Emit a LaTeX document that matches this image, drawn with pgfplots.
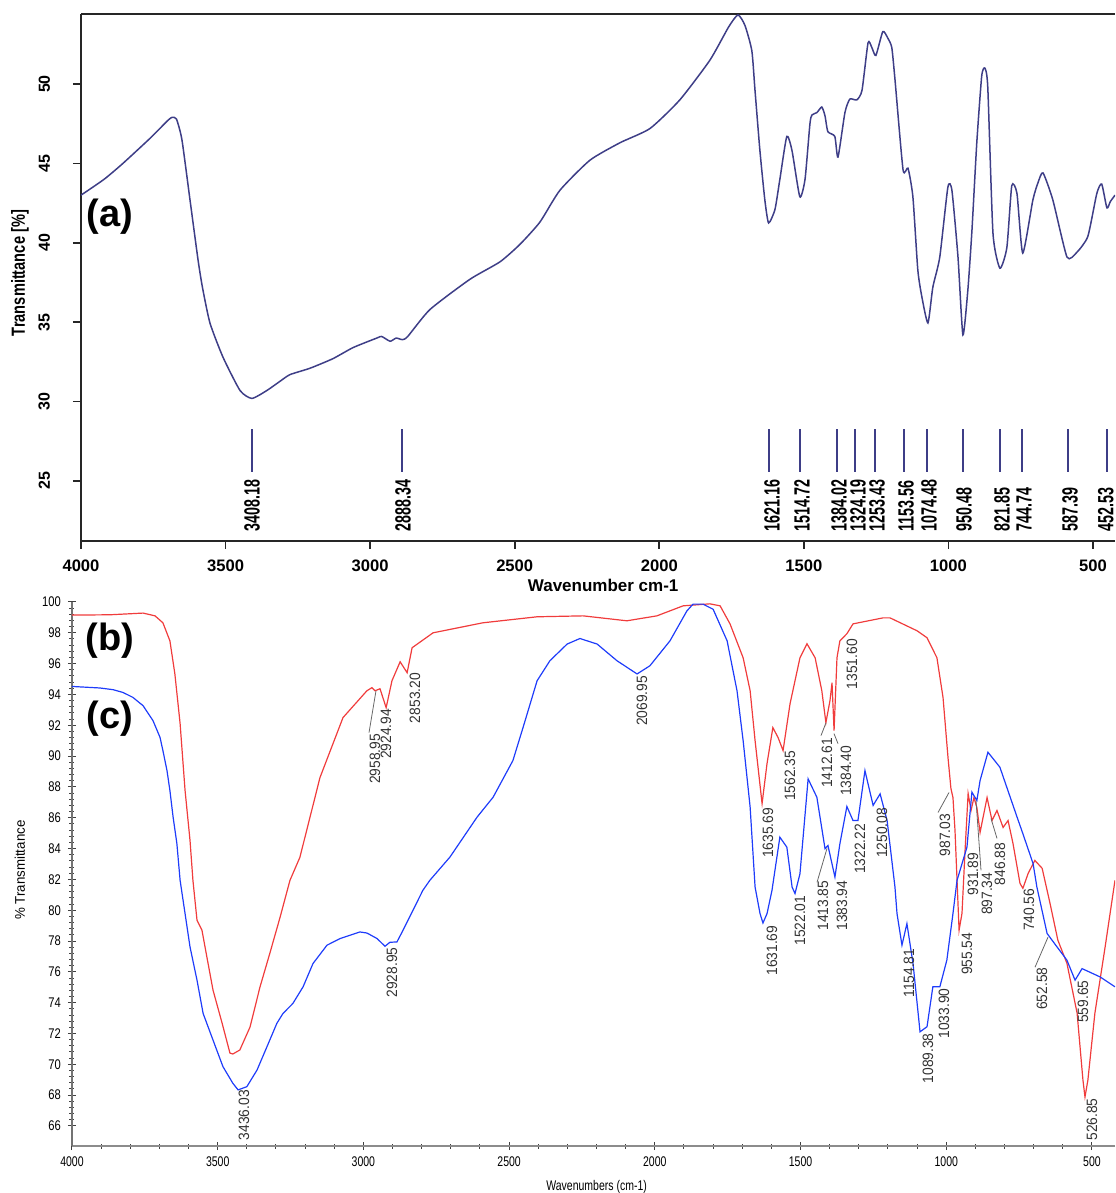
\documentclass[border=0pt]{standalone}
\usepackage{fontspec}
\setmainfont{Liberation Sans}
\usepackage{graphicx}
\usepackage{pgfplots}
\pgfplotsset{compat=1.18}

\definecolor{navy}{RGB}{62,62,135}
\definecolor{spred}{RGB}{240,60,60}
\definecolor{spblue}{RGB}{30,60,250}

% peak labels: panel (a) bold condensed, panels (b)/(c) plain
\newcommand{\pa}[1]{\scalebox{0.65}[1]{\fontsize{11}{11}\selectfont\bfseries #1}}
\newcommand{\pb}[1]{\scalebox{0.92}[1]{\fontsize{7.5}{7.5}\selectfont #1}}

\begin{document}
\begin{tikzpicture}
\useasboundingbox (0,0) rectangle (557.5pt,596.5pt);

% ---------------- panel (a) ----------------
\begin{axis}[
  at={(40.5pt,326pt)}, anchor=south west,
  scale only axis, width=517pt, height=263.5pt,
  x dir=reverse, xmin=424, xmax=4000, ymin=21.22, ymax=54.41,
  axis x line=box, axis y line=left,
  axis line style={-, line width=1pt, black!85},
  xtick pos=left,
  xtick={500,1000,...,4000}, ytick={25,30,...,50},
  tick align=outside, major tick length=4pt,
  tick style={line width=0.8pt, black!85},
  /pgf/number format/1000 sep={},
  /pgf/number format/assume math mode=true,
  xticklabel style={font={\fontsize{8.3}{10}\selectfont\bfseries}, yshift=-1.7pt},
  yticklabel style={font={\fontsize{8}{10}\selectfont\bfseries}, xshift=-8pt, rotate=90, anchor=south},
  xlabel={\fontsize{8.5}{10}\selectfont\bfseries Wavenumber cm-1},
  xlabel style={at={(axis description cs:0.505,-0.0835)}, anchor=center},
  ylabel={\scalebox{0.77}[1]{\fontsize{9.5}{10}\selectfont\bfseries Transmittance [\%]}},
  ylabel style={at={(axis description cs:-0.059,0.5085)}, anchor=center},
]
\addplot[navy, line width=0.75pt, smooth, tension=0.35] coordinates {
(4000,43.0)(3920,44.0)(3855,45.0)(3760,46.6)(3700,47.7)(3685,47.9)(3670,47.8)
(3651,46.5)(3623,42.7)(3595,38.9)(3580,37.2)(3554,34.95)(3509,32.8)(3450,30.7)
(3409,30.2)(3357,30.7)(3310,31.3)(3277,31.7)(3208,32.1)(3129,32.7)(3059,33.4)
(2977,34.0)(2960,34.1)(2931,33.8)(2910,34.0)(2888,33.9)(2870,34.1)(2793,35.8)
(2655,37.7)(2551,38.8)(2482,39.9)(2413,41.3)(2344,43.3)(2240,45.2)(2136,46.3)
(2032,47.2)(1929,49.0)(1825,51.5)(1760,53.6)(1728,54.35)(1704,53.7)(1680,52.1)
(1669,49.6)(1652,45.8)(1635,42.7)(1622,41.25)(1600,42.1)(1583,44.0)(1559,46.7)
(1541,45.8)(1514,42.9)(1496,44.0)(1479,47.5)(1472,48.05)(1455,48.2)(1438,48.55)
(1427,48.0)(1417,47.0)(1393,46.7)(1382,45.4)(1358,48.2)(1341,49.05)(1317,49.0)
(1299,49.6)(1278,52.6)(1265,52.3)(1251,51.8)(1227,53.3)(1210,52.9)(1196,52.3)
(1185,50.3)(1157,44.6)(1140,44.7)(1123,42.9)(1106,38.3)(1092,36.6)(1071,34.95)
(1054,37.2)(1030,39.1)(1002,43.5)(988,43.3)(967,39.1)(950,34.2)(933,37.0)
(919,40.7)(902,46.3)(885,50.5)(874,51.0)(864,49.8)(846,40.6)(822,38.4)
(798,39.7)(781,43.6)(763,43.1)(743,39.35)(708,42.7)(690,43.8)(673,44.4)
(639,42.7)(590,39.1)(556,39.4)(518,40.4)(487,43.1)(470,43.7)(452,42.2)
(440,42.6)(424,43.0)
};
% peak marker lines
\addplot[navy, line width=1pt, unbounded coords=jump] coordinates {
(3408.18,25.57)(3408.18,28.27)(3408.18,nan)
(2888.34,25.57)(2888.34,28.27)(2888.34,nan)
(1621.16,25.57)(1621.16,28.27)(1621.16,nan)
(1514.72,25.57)(1514.72,28.27)(1514.72,nan)
(1384.02,25.57)(1384.02,28.27)(1384.02,nan)
(1324.19,25.57)(1324.19,28.27)(1324.19,nan)
(1253.43,25.57)(1253.43,28.27)(1253.43,nan)
(1153.56,25.57)(1153.56,28.27)(1153.56,nan)
(1074.48,25.57)(1074.48,28.27)(1074.48,nan)
(950.48,25.57)(950.48,28.27)(950.48,nan)
(821.85,25.57)(821.85,28.27)(821.85,nan)
(744.74,25.57)(744.74,28.27)(744.74,nan)
(587.39,25.57)(587.39,28.27)(587.39,nan)
(452.53,25.57)(452.53,28.27)
};
\tikzset{al/.style={rotate=90, anchor=west, inner sep=0pt}}
\node[al] at (axis cs:3408.18,21.79) {\pa{3408.18}};
\node[al] at (axis cs:2886.4,21.79) {\pa{2888.34}};
\node[al] at (axis cs:1610.2,21.79) {\pa{1621.16}};
\node[al] at (axis cs:1506.4,21.79) {\pa{1514.72}};
\node[al] at (axis cs:1378.5,21.79) {\pa{1384.02}};
\node[al] at (axis cs:1312.8,21.79) {\pa{1324.19}};
\node[al] at (axis cs:1247.0,21.79) {\pa{1253.43}};
\node[al] at (axis cs:1146.7,21.79) {\pa{1153.56}};
\node[al] at (axis cs:1067.2,21.79) {\pa{1074.48}};
\node[al] at (axis cs:946.1,21.79) {\pa{950.48}};
\node[al] at (axis cs:814.7,21.79) {\pa{821.85}};
\node[al] at (axis cs:738.6,21.79) {\pa{744.74}};
\node[al] at (axis cs:579.6,21.79) {\pa{587.39}};
\node[al] at (axis cs:456,21.79) {\pa{452.53}};
\node[font={\fontsize{19}{19}\selectfont\bfseries}] at (axis cs:3900,41.62) {(a)};
\end{axis}

% ---------------- panels (b) and (c) ----------------
\begin{axis}[
  at={(36pt,23.5pt)}, anchor=south west,
  scale only axis, width=521.5pt, height=272pt,
  x dir=reverse, xmin=421, xmax=4000, ymin=64.7, ymax=100,
  axis x line=bottom, axis y line=left,
  x axis line style={-, line width=1.2pt, black!45},
  y axis line style={-, line width=0.6pt, black!55},
  xtick={500,1000,...,4000}, minor x tick num=4,
  ytick={66,68,...,100}, minor y tick num=4,
  tick align=center, major tick length=4pt, minor tick length=2.5pt,
  tick style={line width=0.5pt, black!75},
  /pgf/number format/1000 sep={},
  /pgf/number format/assume math mode=true,
  xticklabel={\scalebox{0.75}[1]{\pgfmathprintnumber{\tick}}},
  yticklabel={\scalebox{0.8}[1]{\pgfmathprintnumber{\tick}}},
  xticklabel style={font={\fontsize{7}{8}\selectfont}},
  yticklabel style={font={\fontsize{7}{8}\selectfont}},
  xlabel={\scalebox{0.75}[1]{\fontsize{7}{8}\selectfont Wavenumbers (cm-1)}},
  xlabel style={at={(axis description cs:0.503,-0.0754)}, anchor=center},
  ylabel={\scalebox{0.95}[1]{\fontsize{7}{8}\selectfont \% Transmittance}},
  ylabel style={at={(axis description cs:-0.0499,0.507)}, anchor=center},
]
% (b) red spectrum
\addplot[spred, line width=0.6pt] coordinates {
(4000,99.15)(3870,99.17)(3756,99.28)(3715,99.10)(3688,98.65)(3664,97.48)(3647,95.34)
(3629,92.11)(3612,87.77)(3595,84.53)(3585,81.94)(3571,79.35)(3554,78.70)(3537,76.95)
(3516,74.81)(3485,72.68)(3458,70.73)(3448,70.67)(3424,70.93)(3389,72.42)(3355,75.01)
(3321,77.21)(3286,79.54)(3252,81.94)(3218,83.43)(3149,88.61)(3070,92.50)(2988,94.24)
(2971,94.44)(2960,94.24)(2943,94.37)(2922,93.14)(2902,94.89)(2874,96.12)(2850,95.41)
(2833,97.03)(2761,98.00)(2590,98.65)(2404,99.04)(2246,99.10)(2096,98.78)(1993,99.10)
(1903,99.75)(1811,99.88)(1776,99.75)(1742,98.58)(1697,96.38)(1673,94.24)(1656,91.0)
(1632,86.92)(1615,89.52)(1595,91.85)(1577,91.20)(1560,90.36)(1536,93.40)(1502,96.38)
(1478,97.29)(1450,96.38)(1427,94.24)(1413,92.17)(1399,93.60)(1392,94.76)(1385,91.65)
(1375,96.38)(1365,97.48)(1341,97.94)(1320,98.58)(1217,98.97)(1193,98.97)(1100,98.13)
(1066,97.68)(1032,96.38)(1011,93.79)(994,89.90)(984,87.90)(977,87.31)(970,85.18)
(963,81.94)(956,78.70)(946,79.80)(936,83.69)(925,87.57)(915,86.47)(905,87.31)
(895,86.67)(884,85.05)(860,87.31)(843,85.82)(826,86.47)(805,85.37)(788,85.82)
(771,84.33)(747,81.74)(737,81.42)(719,82.39)(696,83.23)(671,82.72)(644,80.45)
(617,78.05)(586,76.56)(551,73.32)(531,68.98)(524,67.88)(514,68.98)(490,73.32)
(455,77.60)(421,81.94)
};
% (c) blue spectrum
\addplot[spblue, line width=0.6pt] coordinates {
(4000,94.52)(3904,94.42)(3859,94.31)(3825,94.13)(3791,93.81)(3756,93.27)(3722,92.30)
(3698,91.22)(3688,90.36)(3674,89.06)(3664,87.77)(3653,86.04)(3640,84.31)(3629,81.94)
(3612,79.78)(3595,77.62)(3571,75.46)(3550,73.30)(3516,71.57)(3482,69.85)(3448,68.77)
(3430,68.34)(3400,68.55)(3365,69.63)(3331,71.14)(3297,72.66)(3276,73.30)(3242,73.95)
(3207,75.03)(3173,76.54)(3125,77.73)(3080,78.16)(3012,78.59)(2988,78.52)(2953,78.16)
(2926,77.66)(2909,77.92)(2885,77.94)(2864,78.70)(2830,79.99)(2796,81.29)(2772,81.94)
(2703,83.45)(2610,86.04)(2555,87.33)(2487,89.71)(2452,91.87)(2404,94.89)(2360,96.19)
(2301,97.27)(2257,97.63)(2198,97.27)(2130,96.19)(2061,95.33)(2017,95.86)(1948,97.48)
(1890,99.42)(1869,99.86)(1835,99.86)(1800,99.53)(1752,97.48)(1718,94.24)(1697,91.0)
(1673,86.69)(1656,81.50)(1639,79.78)(1629,79.17)(1615,79.78)(1598,81.29)(1571,84.74)
(1547,84.09)(1529,81.50)(1519,81.08)(1502,82.37)(1474,88.52)(1444,87.33)(1416,83.99)
(1406,84.20)(1382,82.15)(1365,84.31)(1341,86.73)(1320,85.82)(1303,85.82)(1279,89.06)
(1251,86.80)(1227,87.55)(1203,85.82)(1176,81.50)(1169,79.78)(1152,77.73)(1135,79.13)
(1114,76.54)(1090,72.11)(1066,72.44)(1046,75.03)(1022,75.03)(998,76.76)(977,79.78)
(963,81.94)(929,84.09)(912,87.66)(895,87.12)(884,88.41)(857,90.25)(816,89.28)
(757,86.04)(737,84.96)(702,83.02)(689,81.50)(654,78.49)(620,77.62)(586,76.76)
(558,75.46)(534,76.21)(472,75.67)(421,75.03)
};
% leader lines
\addplot[black!60, line width=0.4pt, unbounded coords=jump] coordinates {
(2980.8,91.52)(2956.8,94.24)(2956.8,nan)
(1429.8,91.33)(1412.6,92.17)(1412.6,nan)
(1371.5,90.81)(1385.2,91.46)(1385.2,nan)
(1028.3,86.34)(990.6,87.64)(990.6,nan)
(897.9,87.12)(880.8,82.59)(880.8,nan)
(846.4,85.95)(825.9,84.66)(825.9,nan)
(1443.5,81.81)(1409.2,84.01)(1409.2,nan)
(695.5,76.30)(650.9,78.25)
};
\tikzset{pl/.style={rotate=90, anchor=east, inner sep=0pt, text=black!80}}
\node[pl] at (axis cs:2960.3,91.46) {\pb{2958.95}};
\node[pl] at (axis cs:2922.5,93.08) {\pb{2924.94}};
\node[pl] at (axis cs:2823.0,95.41) {\pb{2853.20}};
\node[pl] at (axis cs:2044.0,95.22) {\pb{2069.95}};
\node[pl] at (axis cs:1611.7,86.67) {\pb{1635.69}};
\node[pl] at (axis cs:1536.2,90.36) {\pb{1562.35}};
\node[pl] at (axis cs:1409.2,91.20) {\pb{1412.61}};
\node[pl] at (axis cs:1344.0,90.68) {\pb{1384.40}};
\node[pl] at (axis cs:1323.4,97.61) {\pb{1351.60}};
\node[pl] at (axis cs:1296.0,85.63) {\pb{1322.22}};
\node[pl] at (axis cs:1220.5,86.67) {\pb{1250.08}};
\node[pl] at (axis cs:1004.3,86.28) {\pb{987.03}};
\node[pl] at (axis cs:908.2,83.75) {\pb{931.89}};
\node[pl] at (axis cs:860.2,82.46) {\pb{897.34}};
\node[pl] at (axis cs:815.6,84.40) {\pb{846.88}};
\node[pl] at (axis cs:716.1,81.42) {\pb{740.56}};
\node[pl] at (axis cs:671.4,76.30) {\pb{652.58}};
\node[pl] at (axis cs:530.7,75.46) {\pb{559.65}};
\node[pl] at (axis cs:499.9,67.82) {\pb{526.85}};
\node[pl] at (axis cs:928.8,78.57) {\pb{955.54}};
\node[pl] at (axis cs:1598.0,79.02) {\pb{1631.69}};
\node[pl] at (axis cs:1501.9,80.97) {\pb{1522.01}};
\node[pl] at (axis cs:1423.0,81.94) {\pb{1413.85}};
\node[pl] at (axis cs:1357.7,81.94) {\pb{1383.94}};
\node[pl] at (axis cs:1127.8,77.53) {\pb{1154.81}};
\node[pl] at (axis cs:1062.6,72.03) {\pb{1089.38}};
\node[pl] at (axis cs:1007.7,74.94) {\pb{1033.90}};
\node[pl] at (axis cs:3409.8,68.34) {\pb{3436.03}};
\node[pl] at (axis cs:2901.9,77.60) {\pb{2928.95}};
\node[font={\fontsize{19}{19}\selectfont\bfseries}] at (axis cs:3869.6,97.48) {(b)};
\node[font={\fontsize{19}{19}\selectfont\bfseries}] at (axis cs:3869.6,92.43) {(c)};
\end{axis}
\end{tikzpicture}
\end{document}
